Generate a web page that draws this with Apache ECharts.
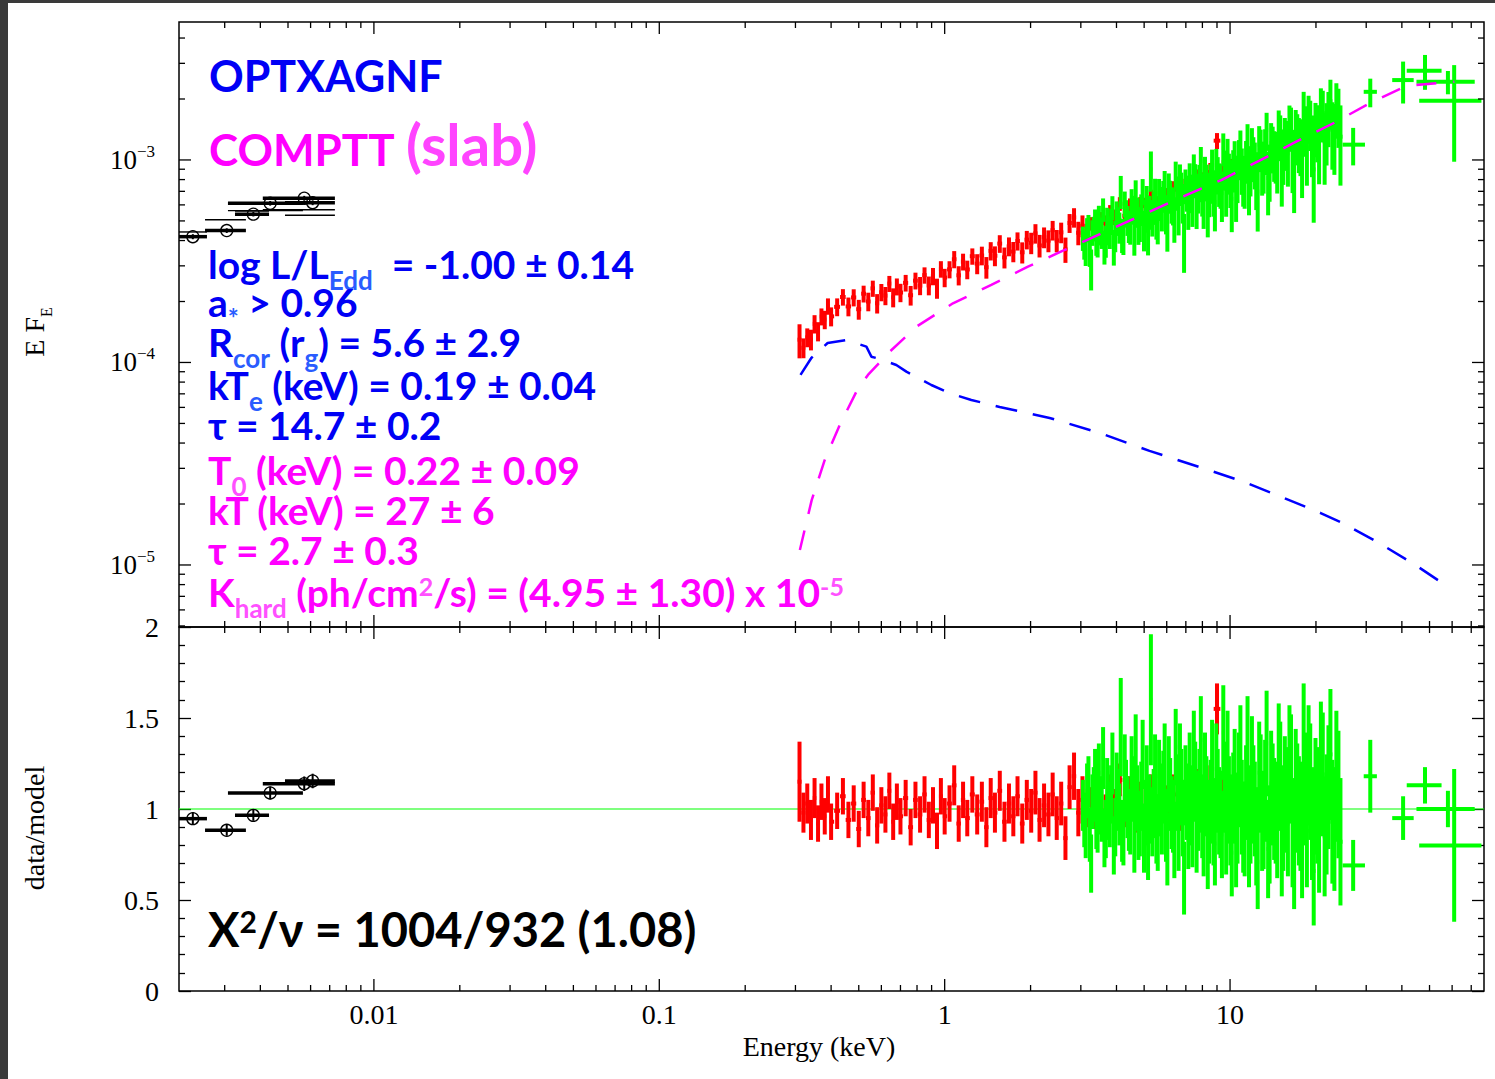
<!DOCTYPE html>
<html><head><meta charset="utf-8">
<script src="https://cdn.jsdelivr.net/npm/echarts@6/dist/echarts.min.js"></script>
<style>html,body{margin:0;padding:0;background:#fff}#c{width:1495px;height:1079px}</style>
</head><body><div id="c"></div>
<script>
// ===================== DATA =====================
// flux values are in units of 1e-4 (E F_E), ratios are data/model
const redE = [0.31,0.32,0.33,0.34,0.35,0.36,0.37,0.38,0.39,0.40,
 0.42,0.44,0.46,0.48,0.50,0.52,0.54,0.56,0.58,0.60,0.62,0.64,0.66,0.68,0.70,
 0.73,0.76,0.79,0.82,0.85,0.88,0.91,0.94,0.97,1.00,
 1.04,1.08,1.12,1.16,1.20,
 1.25,1.30,1.35,1.40,1.45,1.50,
 1.56,1.62,1.68,1.74,1.80,
 1.87,1.94,2.01,2.08,2.15,
 2.23,2.31,2.39,2.47,
 2.56,2.65,2.74,2.84,
 2.94,3.04,
 3.15,3.27,3.39,3.52,3.66,3.80,3.95,4.11,4.28,4.46,4.65,4.85,5.06,5.28,5.52,5.77,6.04,6.33,6.64,6.97,7.32,7.70,8.10,8.53,9.00,9.50,10.0];
const redFlux = [1.296,1.182,1.331,1.299,1.551,1.426,1.686,1.629,1.896,1.689,
 1.882,2.105,1.891,2.095,1.832,2.186,2.000,2.322,1.960,2.223,2.138,2.452,2.097,2.371,2.215,
 2.473,2.148,2.535,2.396,2.699,2.401,2.667,2.328,2.893,2.626,
 2.882,3.233,2.694,3.145,2.879,
 3.348,3.076,3.374,2.954,3.558,3.365,
 3.864,3.303,3.744,3.529,3.979,
 3.500,4.040,3.898,4.340,3.783,
 4.153,3.996,4.500,4.004,
 4.390,3.620,4.883,5.204,
 4.371,4.736,
 4.459,4.846,4.598,5.141,4.881,5.533,5.233,6.078,5.297,5.908,5.422,5.996,5.919,6.529,6.007,6.646,6.559,7.128,6.712,7.308,7.324,8.096,7.787,8.725,12.45,8.893,8.996];
const redRatio = [1.15,0.98,1.03,0.94,1.06,0.92,1.04,0.96,1.08,0.93,
 0.99,1.07,0.94,1.03,0.89,1.05,0.95,1.09,0.91,1.02,0.97,1.10,0.93,1.04,0.96,
 1.06,0.90,1.05,0.97,1.08,0.94,1.02,0.88,1.07,0.96,
 1.03,1.13,0.92,1.05,0.95,
 1.08,0.97,1.04,0.90,1.06,0.98,
 1.10,0.93,1.03,0.96,1.07,
 0.92,1.05,0.99,1.09,0.94,
 1.02,0.97,1.08,0.95,
 1.03,0.84,1.12,1.18,
 0.98,1.05,
 0.98,1.04,0.97,1.06,0.99,1.10,1.02,1.16,0.99,1.08,0.97,1.05,1.01,1.09,0.98,1.06,1.02,1.08,0.99,1.05,1.02,1.10,1.03,1.12,1.55,1.06,1.04];
const redErr = [0.22,0.11,0.11,0.11,0.11,0.10,0.10,0.10,0.10,0.10,
 0.10,0.10,0.10,0.10,0.10,0.10,0.10,0.10,0.10,0.10,0.10,0.10,0.10,0.10,0.10,
 0.10,0.10,0.10,0.10,0.10,0.10,0.10,0.10,0.10,0.10,
 0.10,0.11,0.10,0.10,0.10,
 0.10,0.11,0.11,0.11,0.11,0.11,
 0.11,0.11,0.11,0.11,0.11,
 0.11,0.11,0.12,0.12,0.12,
 0.12,0.12,0.12,0.12,
 0.12,0.12,0.12,0.13,
 0.13,0.13,
 0.08,0.08,0.08,0.08,0.09,0.09,0.09,0.09,0.09,0.10,0.10,0.10,0.10,0.10,0.10,0.11,0.11,0.11,0.11,0.11,0.12,0.12,0.12,0.12,0.14,0.13,0.13];

// NuSTAR module A
const greenE = [3.05,3.12,3.19,3.26,3.33,3.40,3.47,3.55,3.63,3.71,
 3.79,3.87,3.96,4.05,4.14,4.23,4.32,4.42,4.52,4.62,
 4.72,4.83,4.94,5.05,5.16,5.28,5.40,5.52,5.64,5.77,
 5.90,6.03,6.17,6.31,6.45,6.60,6.75,6.90,7.06,7.22,
 7.38,7.55,7.72,7.90,8.08,8.26,8.45,8.65,8.85,9.05,
 9.26,9.47,9.69,9.91,10.14,10.38,10.62,10.87,11.12,11.38,
 11.65,11.93,12.21,12.50,12.80,13.11,13.43,13.76,14.10,14.45,
 14.81,15.18,15.56,15.95,16.35,16.77,17.20,17.65,18.11,18.59,
 19.10,19.64,20.21,20.81,21.45,22.12,22.83,23.58,24.37];
const greenFlux = [4.12,3.61,4.77,2.94,4.60,4.01,5.24,4.30,3.76,5.08,
 4.37,5.83,4.26,5.03,7.03,4.23,5.48,4.75,6.25,4.30,
 5.57,4.89,7.02,5.36,4.43,8.99,5.86,5.14,6.89,5.62,
 7.62,4.74,6.66,6.00,8.48,5.59,7.29,4.09,6.96,8.20,
 6.18,8.00,6.99,9.87,6.16,7.86,6.93,9.51,6.20,8.54,
 7.63,11.43,7.21,8.74,6.43,10.23,8.31,11.66,8.14,10.02,
 7.76,11.79,9.67,6.99,11.41,9.57,14.09,9.06,11.59,10.70,
 14.33,9.05,12.78,10.78,14.55,8.99,13.11,12.10,17.33,11.52,
 15.34,8.98,14.18,17.75,12.33,16.61,14.11,18.33,13.03];
const greenRatio = [1.02,0.88,1.15,0.70,1.08,0.93,1.20,0.97,0.84,1.12,
 0.95,1.25,0.90,1.05,1.45,0.86,1.10,0.94,1.22,0.83,
 1.06,0.92,1.30,0.98,0.80,1.60,1.03,0.89,1.18,0.95,
 1.27,0.78,1.08,0.96,1.34,0.87,1.12,0.62,1.04,1.21,
 0.90,1.15,0.99,1.38,0.85,1.07,0.93,1.26,0.81,1.10,
 0.97,1.42,0.88,1.05,0.76,1.19,0.95,1.31,0.90,1.09,
 0.83,1.24,1.00,0.71,1.14,0.94,1.36,0.86,1.08,0.98,
 1.29,0.80,1.11,0.92,1.22,0.74,1.06,0.96,1.35,0.88,
 1.15,0.66,1.02,1.25,0.85,1.12,0.93,1.18,0.82];
const greenErr = [0.14,0.15,0.14,0.16,0.15,0.15,0.16,0.15,0.16,0.16,
 0.16,0.17,0.16,0.17,0.27,0.17,0.17,0.17,0.18,0.18,
 0.18,0.18,0.19,0.18,0.19,0.36,0.19,0.19,0.20,0.20,
 0.20,0.20,0.20,0.20,0.21,0.21,0.21,0.20,0.21,0.21,
 0.22,0.22,0.22,0.24,0.22,0.22,0.23,0.23,0.23,0.23,
 0.24,0.26,0.24,0.24,0.24,0.25,0.25,0.26,0.25,0.26,
 0.26,0.27,0.26,0.26,0.27,0.27,0.29,0.27,0.28,0.28,
 0.29,0.28,0.29,0.29,0.30,0.29,0.30,0.30,0.34,0.31,
 0.32,0.30,0.32,0.34,0.33,0.34,0.34,0.36,0.35];

// NuSTAR module B
const green2E = [3.085,3.155,3.225,3.295,3.365,3.435,3.51,3.59,3.67,3.75,
 3.83,3.915,4.005,4.095,4.185,4.275,4.37,4.47,4.57,4.67,
 4.775,4.885,4.995,5.105,5.22,5.34,5.46,5.58,5.705,5.835,
 5.965,6.10,6.24,6.38,6.525,6.675,6.825,6.98,7.14,7.30,
 7.465,7.635,7.81,7.99,8.17,8.355,8.55,8.75,8.95,9.155,
 9.365,9.58,9.80,10.025,10.26,10.50,10.745,10.995,11.25,11.515,
 11.79,12.07,12.355,12.65,12.955,13.27,13.595,13.93,14.275,14.63,
 14.995,15.37,15.755,16.15,16.56,16.985,17.425,17.88,18.35,18.845,
 19.37,19.925,20.51,21.13,21.785,22.475,23.205,23.975];
const green2Flux = [3.83,4.54,3.59,4.40,5.01,3.95,4.49,5.70,4.01,4.52,
 5.00,3.76,5.43,4.68,4.30,6.09,5.07,4.68,5.72,6.94,
 4.76,5.74,4.57,6.39,5.58,5.26,6.93,4.99,6.17,6.68,
 5.50,7.29,6.09,5.22,6.95,8.08,6.23,7.51,5.93,6.96,
 8.99,6.10,7.82,6.91,8.61,5.85,7.80,7.07,9.41,7.74,
 6.85,9.09,10.48,7.89,9.04,7.11,10.24,9.06,8.11,12.33,
 9.15,10.36,8.29,11.91,9.39,11.30,8.15,12.12,10.83,9.91,
 13.23,10.84,12.20,14.90,10.47,13.85,12.36,10.30,14.39,16.39,
 12.40,14.72,12.08,17.08,14.23,19.50,13.66,16.97];
const green2Ratio = [0.94,1.10,0.86,1.04,1.17,0.91,1.02,1.28,0.89,0.99,
 1.08,0.80,1.14,0.97,0.88,1.23,1.01,0.92,1.11,1.33,
 0.90,1.07,0.84,1.16,1.00,0.93,1.21,0.86,1.05,1.12,
 0.91,1.19,0.98,0.83,1.09,1.25,0.95,1.13,0.88,1.02,
 1.30,0.87,1.10,0.96,1.18,0.79,1.04,0.93,1.22,0.99,
 0.86,1.12,1.27,0.94,1.06,0.82,1.16,1.01,0.89,1.33,
 0.97,1.08,0.85,1.20,0.93,1.10,0.78,1.14,1.00,0.90,
 1.18,0.95,1.05,1.26,0.87,1.13,0.99,0.81,1.11,1.24,
 0.92,1.07,0.86,1.19,0.97,1.30,0.89,1.08];
const green2Err = [0.15,0.15,0.15,0.15,0.16,0.15,0.16,0.17,0.16,0.16,
 0.16,0.16,0.17,0.17,0.17,0.18,0.17,0.17,0.18,0.19,
 0.18,0.19,0.19,0.19,0.19,0.19,0.20,0.20,0.20,0.20,
 0.20,0.21,0.20,0.21,0.21,0.22,0.21,0.22,0.21,0.22,
 0.24,0.22,0.23,0.23,0.24,0.23,0.23,0.24,0.25,0.24,
 0.24,0.25,0.27,0.25,0.25,0.25,0.26,0.26,0.26,0.29,
 0.27,0.27,0.27,0.28,0.27,0.28,0.27,0.29,0.28,0.28,
 0.30,0.29,0.29,0.31,0.30,0.31,0.30,0.30,0.31,0.33,
 0.31,0.32,0.32,0.34,0.33,0.36,0.34,0.35];

// wide high-energy bins
const hardE = [27.0, 31.0, 40.4, 48.2, 58.0, 61.0];
const hardLo = [24.8, 29.4, 37.0, 41.6, 45.0, 46.0];
const hardHi = [29.7, 32.7, 44.0, 55.1, 72.0, 76.0];
const hardFlux = [11.9, 21.7, 24.8, 27.6, 24.3, 19.6];
const hardFluxErr = [2.5, 3.5, 5.8, 5.4, 3.2, 9.8];
const hardRatio = [0.69, 1.18, 0.95, 1.13, 1.00, 0.80];
const hardRatioErr = [0.14, 0.20, 0.12, 0.10, 0.10, 0.42];

// optical / UV photometry
const uvE = [0.00232, 0.00305, 0.00378, 0.00433, 0.00570, 0.00610];
const uvLo = [0.00204, 0.00256, 0.00326, 0.00308, 0.00408, 0.00488];
const uvHi = [0.00260, 0.00356, 0.00429, 0.00564, 0.00730, 0.00730];
const uvFlux = [4.18, 4.48, 5.40, 6.11, 6.47, 6.15];
const uvFluxErr = [0.12, 0.12, 0.14, 0.16, 0.18, 0.17];
const uvModel = [4.41, 5.07, 5.60, 5.62, 5.68, 5.33];
const uvRatio = [0.947, 0.883, 0.965, 1.088, 1.139, 1.154];
const uvRatioErr = [0.035, 0.03, 0.03, 0.035, 0.04, 0.04];

// model components (E in keV, E F_E)
const optxE = [0.3125,0.341,0.389,0.4525,0.5317,0.5536,0.5764,0.677,0.734,0.7725,0.898,1.041,1.24,1.558,2.332,3.49,5.22,8.08,11.13,15.23,20.87,24.84,33.4,44.6,59.05];
const optxF = [8.68e-5,1.052e-4,1.248e-4,1.291e-4,1.197e-4,1.068e-4,1.052e-4,9.72e-5,9.01e-5,8.68e-5,7.74e-5,7.05e-5,6.53e-5,6.03e-5,5.32e-5,4.49e-5,3.66e-5,3.0e-5,2.58e-5,2.16e-5,1.80e-5,1.607e-5,1.28e-5,1.0e-5,7.67e-6];
const compE = [0.3109,0.342,0.380,0.4288,0.4918,0.5385,0.642,0.796,1.069,1.457,1.958,2.633,3.635,5.018,6.834,9.315,12.68,17.05,23.23,30.81,41.4,49.3,61.1];
const compF = [1.186e-5,2.09e-5,3.30e-5,4.91e-5,7.23e-5,8.68e-5,1.131e-4,1.502e-4,1.96e-4,2.414e-4,2.972e-4,3.594e-4,4.41e-4,5.41e-4,6.59e-4,7.96e-4,9.92e-4,1.231e-3,1.528e-3,1.905e-3,2.318e-3,2.372e-3,2.435e-3];

// ticks
const xTickValues = [0.01, 0.1, 1, 10];
const xTickLabels = ['0.01', '0.1', '1', '10'];
const yTickValues = [1e-5, 1e-4, 1e-3];
const yTickLabels = ['{b|10}{p|\u22125}', '{b|10}{p|\u22124}', '{b|10}{p|\u22123}'];
const ratioTickValues = [0, 0.5, 1, 1.5, 2];
const ratioTickLabels = ['0', '0.5', '1', '1.5', '2'];

// ===================== BUILD =====================
const XMIN = 0.002075, XMAX = 77.6, YMIN = 4.94e-6, YMAX = 4.80e-3;
const FLUX_UNIT = 1e-4;
const SERIF = '"Liberation Serif", "Times New Roman", serif';
const SANS = 'Lato, "DejaVu Sans", sans-serif';

function edgesOf(E) {
  const lo = [], hi = [], n = E.length;
  for (let i = 0; i < n; i++) {
    const a = i > 0 ? Math.sqrt(E[i-1]*E[i]) : E[i]*E[i]/Math.sqrt(E[i]*E[i+1]);
    const b = i < n-1 ? Math.sqrt(E[i]*E[i+1]) : E[i]*E[i]/Math.sqrt(E[i-1]*E[i]);
    lo.push(a); hi.push(b);
  }
  return [lo, hi];
}
function topItems(E, flux, ratio, err) {
  const [lo, hi] = edgesOf(E);
  return E.map((e,i)=>{const f=flux[i]*FLUX_UNIT, d=f*err[i]/ratio[i]; return [e, lo[i], hi[i], f, f-d, f+d];});
}
function botItems(E, ratio, err) {
  const [lo, hi] = edgesOf(E);
  return E.map((e,i)=>[e, lo[i], hi[i], ratio[i], ratio[i]-err[i], ratio[i]+err[i]]);
}
const redTop = topItems(redE, redFlux, redRatio, redErr);
const redBot = botItems(redE, redRatio, redErr);
const hardTop = hardE.map((e,i)=>{const f=hardFlux[i]*FLUX_UNIT, d=hardFluxErr[i]*FLUX_UNIT; return [e, hardLo[i], hardHi[i], f, f-d, f+d];});
const hardBot = hardE.map((e,i)=>[e, hardLo[i], hardHi[i], hardRatio[i], hardRatio[i]-hardRatioErr[i], hardRatio[i]+hardRatioErr[i]]);
const greenTop = topItems(greenE, greenFlux, greenRatio, greenErr).concat(topItems(green2E, green2Flux, green2Ratio, green2Err), hardTop);
const greenBot = botItems(greenE, greenRatio, greenErr).concat(botItems(green2E, green2Ratio, green2Err), hardBot);
const uvTop = uvE.map((e,i)=>{const f=uvFlux[i]*FLUX_UNIT, d=uvFluxErr[i]*FLUX_UNIT; return [e, uvLo[i], uvHi[i], f, f-d, f+d];});
const uvBot = uvE.map((e,i)=>[e, uvLo[i], uvHi[i], uvRatio[i], uvRatio[i]-uvRatioErr[i], uvRatio[i]+uvRatioErr[i]]);
const uvModelTop = uvE.map((e,i)=>[e, uvLo[i], uvHi[i], uvModel[i]*FLUX_UNIT]);

function errSeries(items, color, xi, yi, lw, z, circle) {
  return {
    type: 'custom', xAxisIndex: xi, yAxisIndex: yi, z, clip: true, silent: true,
    encode: {x: [0,1,2], y: [3,4,5]},
    data: items,
    renderItem(params, api) {
      const e = api.value(0), lo = api.value(1), hi = api.value(2), y = api.value(3), yl = api.value(4), yh = api.value(5);
      const a = api.coord([lo, y]), b = api.coord([hi, y]), c = api.coord([e, yl]), d = api.coord([e, yh]), m = api.coord([e, y]);
      const st = {stroke: color, lineWidth: lw, fill: null};
      const ch = [
        {type: 'line', shape: {x1: a[0], y1: a[1], x2: b[0], y2: b[1]}, style: st},
        {type: 'line', shape: {x1: c[0], y1: c[1], x2: d[0], y2: d[1]}, style: circle ? {stroke: color, lineWidth: 2, fill: null} : st}
      ];
      if (circle) ch.push({type: 'circle', shape: {cx: m[0], cy: m[1], r: 6}, style: {stroke: color, lineWidth: 1.3, fill: 'none'}});
      return {type: 'group', children: ch};
    }
  };
}
function hLineSeries(items, color, xi, yi, lw, z) {
  return {
    type: 'custom', xAxisIndex: xi, yAxisIndex: yi, z, clip: true, silent: true,
    encode: {x: [0,1,2], y: 3}, data: items,
    renderItem(params, api) {
      const a = api.coord([api.value(1), api.value(3)]), b = api.coord([api.value(2), api.value(3)]);
      return {type: 'line', shape: {x1: a[0], y1: a[1], x2: b[0], y2: b[1]}, style: {stroke: color, lineWidth: lw}};
    }
  };
}

// log tick positions (axis decoration)
function logTicks(lo, hi) {
  const maj = [], min = [];
  for (let p = Math.floor(Math.log10(lo)); p <= Math.ceil(Math.log10(hi)); p++) {
    for (let k = 1; k <= 9; k++) {
      const v = k * Math.pow(10, p);
      if (v < lo * 0.999 || v > hi * 1.001) continue;
      (k === 1 ? maj : min).push(v);
    }
  }
  return [maj, min];
}
const [xMaj, xMin] = logTicks(XMIN, XMAX);
const [yMaj, yMin] = logTicks(YMIN, YMAX);

function xTickSeries(xi, yi, yRef) {
  const data = xMaj.map(v=>[v, 12, yRef]).concat(xMin.map(v=>[v, 6, yRef]));
  return {
    type: 'custom', xAxisIndex: xi, yAxisIndex: yi, z: 20, clip: false, silent: true,
    encode: {x: 0, y: 2}, data,
    renderItem(params, api) {
      const x = api.coord([api.value(0), api.value(2)])[0], len = api.value(1), cs = params.coordSys;
      const st = {stroke: '#000', lineWidth: 1.3};
      return {type: 'group', children: [
        {type: 'line', shape: {x1: x, y1: cs.y, x2: x, y2: cs.y + len}, style: st},
        {type: 'line', shape: {x1: x, y1: cs.y + cs.height, x2: x, y2: cs.y + cs.height - len}, style: st}
      ]};
    }
  };
}
function yTickSeries(xi, yi, xRef) {
  const data = yMaj.map(v=>[xRef, v, 12]).concat(yMin.map(v=>[xRef, v, 6]));
  return {
    type: 'custom', xAxisIndex: xi, yAxisIndex: yi, z: 20, clip: false, silent: true,
    encode: {x: 0, y: 1}, data,
    renderItem(params, api) {
      const y = api.coord([api.value(0), api.value(1)])[1], len = api.value(2), cs = params.coordSys;
      const st = {stroke: '#000', lineWidth: 1.3};
      return {type: 'group', children: [
        {type: 'line', shape: {x1: cs.x, y1: y, x2: cs.x + len, y2: y}, style: st},
        {type: 'line', shape: {x1: cs.x + cs.width, y1: y, x2: cs.x + cs.width - len, y2: y}, style: st}
      ]};
    }
  };
}

// rich text: base line box is ~1 em, sub/superscripts are shifted with top padding
function richDef(fs, color, subColor) {
  return {
    b: {fontFamily: SANS, fontWeight: 'bold', fontSize: fs, lineHeight: Math.round(fs*1.05), fill: color},
    s: {fontFamily: SANS, fontWeight: 'bold', fontSize: Math.round(fs*0.67), lineHeight: 1, verticalAlign: 'top',
        padding: [Math.round(fs*0.59), 0, 0, 0], fill: subColor},
    p: {fontFamily: SANS, fontWeight: 'bold', fontSize: Math.round(fs*0.64), lineHeight: 1, verticalAlign: 'top',
        padding: [Math.round(fs*0.05), 0, 0, 0], fill: subColor}
  };
}
function label(x, baseline, text, fs, color, subColor) {
  const L = Math.round(fs*1.05);
  return {type: 'text', x, y: baseline - L/2 - 0.41*fs, z: 100, silent: true,
    style: {text, rich: richDef(fs, color, subColor), align: 'left', verticalAlign: 'top', fill: color}};
}
const BLUE = '#0000f5', BLUE2 = '#2a5cff', MAG = '#ff00ff', MAG2 = '#ff50ff';

const graphics = [
  {type: 'rect', x: 0, y: 0, shape: {width: 8, height: 1079}, style: {fill: '#3a3a3a'}, silent: true},
  {type: 'rect', x: 0, y: 0, shape: {width: 1495, height: 3}, style: {fill: '#3a3a3a'}, silent: true},
  label(209, 93, '{b|OPTXAGNF}', 43, BLUE, BLUE2),
  label(209, 167, '{b|COMPTT}', 44, MAG, MAG2),
  label(406, 167, '{b|(slab)}', 58, '#ff44ff', MAG2),
  label(208, 280, '{b|log L/L}{s|Edd}{b|  = -1.00 \u00b1 0.14}', 39, BLUE, BLUE2),
  label(208, 318, '{b|a}{s|*}{b| > 0.96}', 39, BLUE, BLUE2),
  label(208, 358, '{b|R}{s|cor}{b| (r}{s|g}{b|) = 5.6 \u00b1 2.9}', 39, BLUE, BLUE2),
  label(208, 401, '{b|kT}{s|e}{b| (keV) = 0.19 \u00b1 0.04}', 39, BLUE, BLUE2),
  label(208, 441, '{b|\u03c4 = 14.7 \u00b1 0.2}', 39, BLUE, BLUE2),
  label(208, 486, '{b|T}{s|0}{b| (keV) = 0.22 \u00b1 0.09}', 39, MAG, MAG2),
  label(208, 526, '{b|kT (keV) = 27 \u00b1 6}', 39, MAG, MAG2),
  label(208, 566, '{b|\u03c4 = 2.7 \u00b1 0.3}', 39, MAG, MAG2),
  label(208, 608, '{b|K}{s|hard}{b| (ph/cm}{p|2}{b|/s) = (4.95 \u00b1 1.30) x 10}{p|-5}', 39, MAG, MAG2),
  label(208, 948, '{b|X}{p|2}{b|/\u03bd = 1004/932 (1.08)}', 47, '#000', '#000'),
  {type: 'text', x: 819, y: 1046, z: 100, silent: true,
   style: {text: 'Energy (keV)', font: '28px ' + SERIF, fill: '#000', align: 'center', verticalAlign: 'middle'}},
  {type: 'text', x: 34, y: 332, rotation: Math.PI/2, z: 100, silent: true,
   style: {text: '{b|E F}{s|E}', align: 'center', verticalAlign: 'middle',
     rich: {b: {fontFamily: SERIF, fontSize: 28, lineHeight: 40, fill: '#000'},
            s: {fontFamily: SERIF, fontSize: 16, lineHeight: 16, verticalAlign: 'bottom', fill: '#000'}}}},
  {type: 'text', x: 34, y: 828, rotation: Math.PI/2, z: 100, silent: true,
   style: {text: 'data/model', font: '28px ' + SERIF, fill: '#000', align: 'center', verticalAlign: 'middle'}}
];

const axisOff = {axisLine: {show: false}, axisTick: {show: false}, splitLine: {show: false}};
const tickStyle = {lineStyle: {color: '#000', width: 1.3}};

const option = {
  animation: false,
  backgroundColor: '#fff',
  grid: [
    {left: 179, top: 22, width: 1305, height: 605, show: true, borderColor: '#000', borderWidth: 1.5, backgroundColor: 'transparent'},
    {left: 179, top: 627, width: 1305, height: 364, show: true, borderColor: '#000', borderWidth: 1.5, backgroundColor: 'transparent'}
  ],
  xAxis: [
    Object.assign({type: 'log', gridIndex: 0, min: XMIN, max: XMAX, axisLabel: {show: false}}, axisOff),
    Object.assign({type: 'log', gridIndex: 1, min: XMIN, max: XMAX,
      axisLabel: {show: true, margin: 9, fontFamily: SERIF, fontSize: 28, color: '#000', showMinLabel: false, showMaxLabel: false,
        formatter: v => { const k = xTickValues.findIndex(t => Math.abs(Math.log10(v/t)) < 0.01); return k >= 0 ? xTickLabels[k] : ''; }}}, axisOff)
  ],
  yAxis: [
    Object.assign({type: 'log', gridIndex: 0, min: YMIN, max: YMAX,
      axisLabel: {show: true, margin: 24, showMinLabel: false, showMaxLabel: false,
        formatter: v => { const k = yTickValues.findIndex(t => Math.abs(Math.log10(v/t)) < 0.01); return k >= 0 ? yTickLabels[k] : ''; },
        rich: {b: {fontFamily: SERIF, fontSize: 27, lineHeight: 34, color: '#000'},
               p: {fontFamily: SERIF, fontSize: 17, lineHeight: 20, verticalAlign: 'top', color: '#000'}}}}, axisOff),
    {type: 'value', gridIndex: 1, min: 0, max: 2, interval: 0.5,
      axisLine: {show: false}, splitLine: {show: false},
      axisTick: Object.assign({show: true, inside: true, length: 12}, tickStyle),
      minorTick: Object.assign({show: true, splitNumber: 5, length: 6}, tickStyle),
      axisLabel: {margin: 20, fontFamily: SERIF, fontSize: 28, color: '#000',
        formatter: v => { const k = ratioTickValues.findIndex(t => Math.abs(t - v) < 1e-6); return k >= 0 ? ratioTickLabels[k] : ''; }}},
    {type: 'value', gridIndex: 1, position: 'right', min: 0, max: 2, interval: 0.5,
      axisLine: {show: false}, splitLine: {show: false}, axisLabel: {show: false},
      axisTick: Object.assign({show: true, inside: true, length: 12}, tickStyle),
      minorTick: Object.assign({show: true, splitNumber: 5, length: 6}, tickStyle)}
  ],
  graphic: graphics,
  series: [
    xTickSeries(0, 0, 1e-4),
    xTickSeries(1, 1, 1),
    yTickSeries(0, 0, 1),
    {type: 'line', xAxisIndex: 1, yAxisIndex: 1, z: 1, silent: true, symbol: 'none',
     data: [[XMIN, 1], [XMAX, 1]], lineStyle: {color: '#00ff00', width: 1.2}},
    errSeries(redTop, '#ff0000', 0, 0, 4, 2, false),
    errSeries(greenTop, '#00ff00', 0, 0, 4, 3, false),
    errSeries(uvTop, '#000', 0, 0, 3.5, 3, true),
    hLineSeries(uvModelTop, '#000', 0, 0, 1.4, 3),
    errSeries(redBot, '#ff0000', 1, 1, 4, 2, false),
    errSeries(greenBot, '#00ff00', 1, 1, 4, 3, false),
    errSeries(uvBot, '#000', 1, 1, 3.5, 3, true),
    {type: 'line', xAxisIndex: 0, yAxisIndex: 0, z: 6, silent: true, symbol: 'none',
     data: compE.map((e,i)=>[e, compF[i]]), lineStyle: {color: '#ff00ff', width: 2.5, type: [20, 17]}},
    {type: 'line', xAxisIndex: 0, yAxisIndex: 0, z: 6, silent: true, symbol: 'none',
     data: optxE.map((e,i)=>[e, optxF[i]]), lineStyle: {color: '#0000ff', width: 2.5, type: [22, 16]}}
  ]
};
const chart = echarts.init(document.getElementById('c'), null, {renderer: 'svg'});
chart.setOption(option);
</script>
</body></html>
